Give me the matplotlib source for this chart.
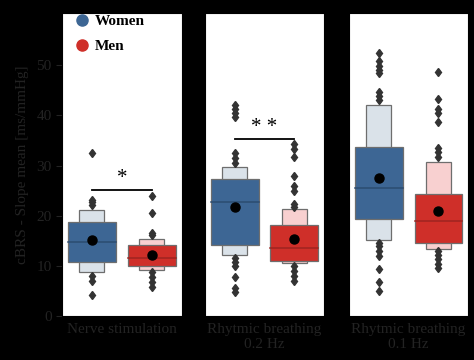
import matplotlib.pyplot as plt
from matplotlib.patches import Rectangle
from matplotlib.lines import Line2D

# conditions and groups
conditions = ['Nerve stimulation', 'Rhytmic breathing\n0.2 Hz', 'Rhytmic breathing\n0.1 Hz']
groups = ['Women', 'Men']

# letter-value boxes, [women, men] per condition: (low, high)
inner_box = [[(10.8, 18.8), (9.9, 14.1)],
             [(14.2, 27.4), (10.9, 18.1)],
             [(19.4, 33.7), (14.5, 24.3)]]
outer_box = [[(8.7, 21.1), (9.1, 15.3)],
             [(12.1, 29.8), (10.5, 21.3)],
             [(15.2, 42.1), (13.3, 30.8)]]
medians = [[14.85, 11.5], [22.8, 13.5], [25.6, 18.9]]
means = [[15.2, 12.1], [21.7, 15.3], [27.5, 20.9]]

outliers = [
    [[22.2, 22.7, 23.2, 32.5, 8.0, 7.0, 4.2],
     [24.0, 20.6, 16.6, 16.1, 8.7, 7.7, 6.7, 5.7]],
    [[30.5, 31.4, 32.5, 39.6, 40.4, 41.2, 42.0, 11.5, 10.7, 9.9, 7.7, 5.5, 4.8],
     [34.2, 33.2, 31.6, 28.0, 25.9, 24.9, 22.3, 21.8, 10.0, 9.0, 8.0, 7.0]],
    [[52.5, 50.8, 49.9, 49.1, 48.4, 44.6, 43.8, 43.0, 14.6, 13.9, 13.0, 12.0, 9.3, 6.7, 5.0],
     [48.6, 43.3, 41.3, 40.5, 38.6, 33.5, 32.7, 31.7, 13.0, 12.1, 11.3, 10.3, 9.5]],
]

# significance: (bar height, label) or None
signif = [(25.2, '*'), (35.3, '* *'), None]

dark_col = ['#3d6694', '#cf2f29']
light_col = ['#dae2e9', '#f8d0d0']
median_col = ['#2c4c70', '#9e2420']
text_col = '#232323'

plt.rcParams['font.family'] = ['Liberation Serif', 'DejaVu Serif']

fig = plt.figure(figsize=(4.74, 3.6), dpi=100, facecolor='black')
lefts = [0.131, 0.432, 0.736]
axes = []
for i, cond in enumerate(conditions):
    ax = fig.add_axes([lefts[i], 0.122, 0.252, 0.842])
    ax.set_facecolor('white')
    axes.append(ax)
    for g in range(2):
        lo, hi = outer_box[i][g]
        ax.add_patch(Rectangle((g - 0.21, lo), 0.42, hi - lo, facecolor=light_col[g],
                               edgecolor='#6e6e6e', lw=0.9, zorder=2))
        lo, hi = inner_box[i][g]
        ax.add_patch(Rectangle((g - 0.4, lo), 0.8, hi - lo, facecolor=dark_col[g],
                               edgecolor='#6e6e6e', lw=0.9, zorder=3))
        ax.plot([g - 0.4, g + 0.4], [medians[i][g]] * 2, color=median_col[g], lw=1.1, zorder=4)
        ax.plot([g] * len(outliers[i][g]), outliers[i][g], linestyle='none', marker='d',
                color='#333333', markersize=4.5, zorder=4)
        ax.plot(g, means[i][g], marker='o', color='black', markersize=6.5, zorder=5)
    if signif[i] is not None:
        h, lab = signif[i]
        ax.plot([0, 1], [h, h], color='black', lw=1.3)
        ax.text(0.5, h + 0.3, lab, ha='center', va='bottom', fontsize=15, color='black')
    ax.set_xlim(-0.5, 1.5)
    ax.set_ylim(0, 60.4)
    ax.set_xticks([0.5])
    ax.set_xticklabels([cond], color=text_col, fontsize=11)
    ax.tick_params(axis='x', length=0, pad=5)
    for sp in ax.spines.values():
        sp.set_color('black')
    if i == 0:
        ax.set_yticks([0, 10, 20, 30, 40, 50])
        ax.tick_params(axis='y', colors=text_col, labelsize=11, length=4)
        ax.set_ylabel('cBRS - Slope mean [ms/mmHg]', color=text_col, fontsize=11, labelpad=5)
    else:
        ax.set_yticks([])

handles = [Line2D([], [], linestyle='none', marker='o', markersize=8, color=dark_col[g]) for g in range(2)]
leg = axes[0].legend(handles, groups, loc='upper left', frameon=False, labelspacing=0.72,
                     handlelength=1.0, handletextpad=0.3, borderaxespad=0.0,
                     bbox_to_anchor=(0.055, 1.015), prop={'weight': 'bold', 'size': 11})

fig.savefig('out.png', dpi=100, facecolor='black')
